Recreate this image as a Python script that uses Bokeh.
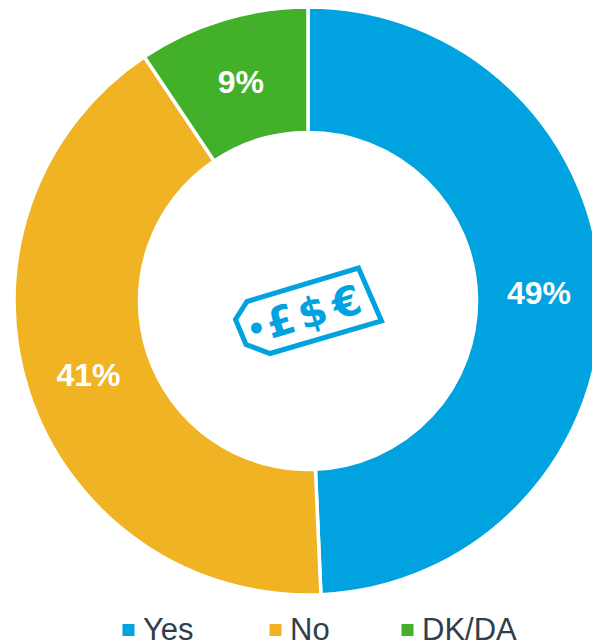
from math import sin, cos, radians
from bokeh.plotting import figure
from bokeh.models import ColumnDataSource
from bokeh.core.properties import value
from bokeh.embed import file_html
from bokeh.resources import INLINE

categories = ["Yes", "No", "DK/DA"]
shares = [49.3, 41.3, 9.4]
labels = ["49%", "41%", "9%"]
colors = ["#00A3E0", "#F0B323", "#43B02A"]
legend_x = [122, 269, 401]
symbols = ["£", "$", "€"]

W, H = 592, 643
def Y(py):
    return H - py

p = figure(width=W, height=H, x_range=(0, W), y_range=(0, H),
           output_backend="svg", toolbar_location=None, min_border=0,
           outline_line_color=None, background_fill_color="white")
p.axis.visible = False
p.grid.visible = False

cx, cy = 307.5, Y(300.5)
r_out, r_in = 294, 168.5
start, rows = 0.0, []
for c, s, l, col in zip(categories, shares, labels, colors):
    end = start + s * 3.6
    rows.append((c, l, col, start, end))
    start = end

src = ColumnDataSource(dict(
    start=[radians(90 - r[4]) for r in rows],
    end=[radians(90 - r[3]) for r in rows],
    color=[r[2] for r in rows],
))
p.annular_wedge(x=cx, y=cy, inner_radius=r_in, outer_radius=r_out, start_angle="start",
                end_angle="end", fill_color="color", line_color="white", line_width=3.5,
                direction="anticlock", source=src)

rm = 231
nudge = [5, 0, 0]
lab = ColumnDataSource(dict(
    x=[cx + rm * sin(radians((r[3] + r[4]) / 2)) for r in rows],
    y=[cy + rm * cos(radians((r[3] + r[4]) / 2)) - 2 + n for r, n in zip(rows, nudge)],
    t=labels,
))
p.text(x="x", y="y", text="t", source=lab, text_color="white", text_align="center",
       text_baseline="middle", text_font=value("Liberation Sans"),
       text_font_style="bold", text_font_size="32px")

# price-tag icon
tag_x = [358.0, 381.0, 269.5, 245.5, 235.0, 246.5]
tag_y = [Y(267.5), Y(320.5), Y(353.0), Y(344.0), Y(319.0), Y(301.0)]
p.patch(tag_x + tag_x[:1], tag_y + tag_y[:1], fill_color=None, line_color=colors[0],
        line_width=5, line_join="miter")
p.circle(x=[256], y=[Y(327.5)], radius=5.5, fill_color=colors[0], line_color=None)
p.text(x=[280, 312, 346], y=[Y(321), Y(312), Y(302)], text=symbols,
       angle=radians(17), text_color=colors[0], text_align="center", text_baseline="middle",
       text_font=value("DejaVu Sans"), text_font_style="bold", text_font_size="41px")

# legend
p.scatter(x=[x + 6 for x in legend_x], y=[Y(629.5)] * 3, marker="square", size=12,
          color=colors, line_color=None)
p.text(x=[x + 20.5 for x in legend_x], y=[Y(628.5)] * 3, text=categories, text_color="#2F3F4B",
       text_align="left", text_baseline="middle", text_font=value("Liberation Sans"),
       text_font_size="31px")

open("out.html", "w").write(file_html(p, INLINE))
